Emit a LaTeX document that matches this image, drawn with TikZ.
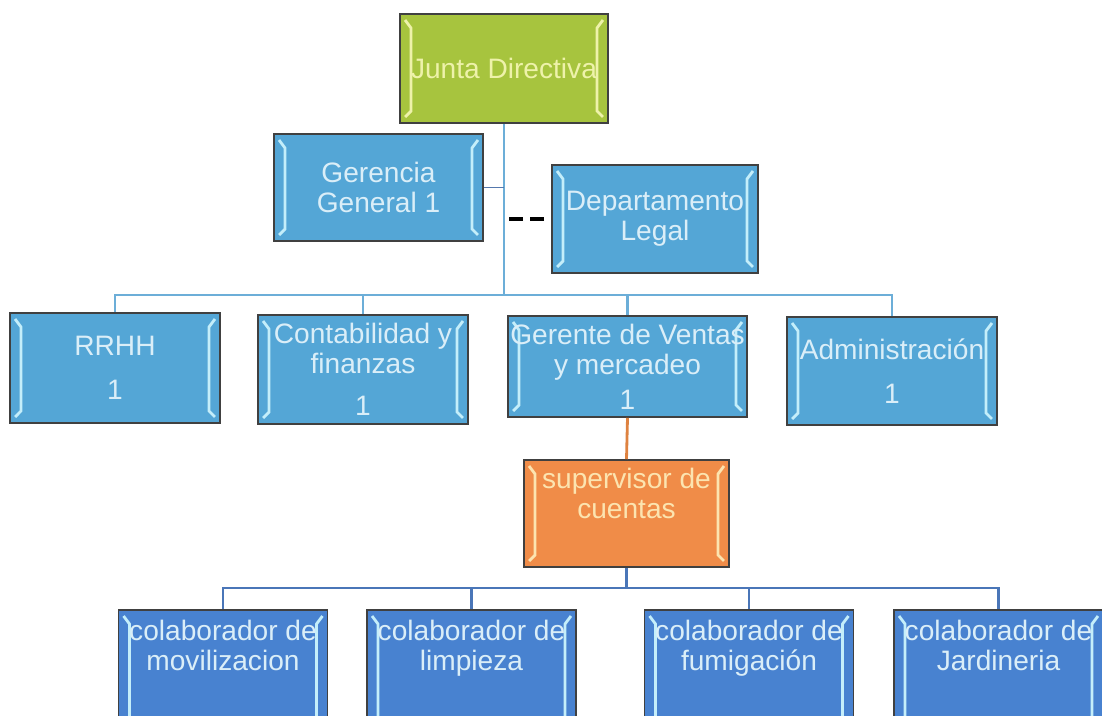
\documentclass[tikz,border=0pt]{standalone}
\usepackage{fontspec}
\setmainfont{Liberation Sans}
\definecolor{verdejunta}{RGB}{167,196,62}
\definecolor{azulcaja}{RGB}{84,166,214}
\definecolor{azulcolab}{RGB}{72,130,208}
\definecolor{naranja}{RGB}{240,140,72}
\definecolor{textoazul}{RGB}{218,238,248}
\definecolor{textoverde}{RGB}{238,242,170}
\definecolor{textonar}{RGB}{252,228,176}
\definecolor{biselazul}{RGB}{196,238,250}
\definecolor{lineaazul}{RGB}{108,174,216}
\definecolor{lineaosc}{RGB}{74,118,184}
\definecolor{lineanar}{RGB}{222,130,64}
\tikzset{bisel/.style={path picture={
  \draw[#1,line width=1.6pt] ([xshift=0.1cm,yshift=-0.12cm]path picture bounding box.north west) -- ([xshift=0.22cm,yshift=-0.28cm]path picture bounding box.north west) -- ([xshift=0.22cm,yshift=0.24cm]path picture bounding box.south west) -- ([xshift=0.1cm,yshift=0.12cm]path picture bounding box.south west);
  \draw[#1,line width=1.6pt] ([xshift=-0.1cm,yshift=-0.12cm]path picture bounding box.north east) -- ([xshift=-0.22cm,yshift=-0.28cm]path picture bounding box.north east) -- ([xshift=-0.22cm,yshift=0.24cm]path picture bounding box.south east) -- ([xshift=-0.1cm,yshift=0.12cm]path picture bounding box.south east);
}}}
\tikzstyle{caja}=[rectangle,draw=black!75,line width=0.9pt,inner sep=0pt,align=center,font=\fontsize{16pt}{17pt}\selectfont]
\tikzstyle{jefe}=[caja,fill=verdejunta,text=textoverde,bisel=textoverde]
\tikzstyle{cargo}=[caja,fill=azulcaja,text=textoazul,bisel=biselazul]
\tikzstyle{super}=[caja,fill=naranja,text=textonar,bisel=textonar]
\tikzstyle{colab}=[caja,fill=azulcolab,text=textoazul,bisel=biselazul,minimum width=4.18cm,minimum height=2.4cm,text depth=1cm]
\tikzstyle{linea}=[draw=lineaazul,line width=1.6pt]

\begin{document}
\begin{tikzpicture}[x=0.02cm,y=-0.02cm]
\useasboundingbox (0,0) rectangle (1102,716);
\clip (0,0) rectangle (1102,716);

\node[jefe,minimum width=4.16cm,minimum height=2.18cm] (junta) at (504,68.5) {Junta Directiva};

\node[cargo,minimum width=4.18cm,minimum height=2.14cm] (gerencia) at (378.5,187.5) {Gerencia\\General 1};
\node[cargo,minimum width=4.12cm,minimum height=2.16cm] (legal) at (655,219) {Departamento\\Legal};

\node[cargo,minimum width=4.2cm,minimum height=2.2cm] (rrhh) at (115,368) {RRHH\\[8pt]1};
\node[cargo,minimum width=4.2cm,minimum height=2.18cm] (conta) at (363,369.5) {Contabilidad y\\finanzas\\[7pt]1};
\node[cargo,minimum width=4.78cm,minimum height=2.02cm] (ventas) at (627.5,366.5) {Gerente de Ventas\\y mercadeo\\[3pt]1};
\node[cargo,minimum width=4.2cm,minimum height=2.16cm] (admin) at (892,371) {Administración\\[8pt]1};

\node[super,minimum width=4.1cm,minimum height=2.14cm,text depth=0.8cm] (super) at (626.5,513.5) {supervisor de\\cuentas};

\node[colab] (movil) at (223,670) {colaborador de\\movilizacion};
\node[colab] (limpieza) at (471.5,670) {colaborador de\\limpieza};
\node[colab] (fumiga) at (749,670) {colaborador de\\fumigación};
\node[colab] (jardin) at (998.5,670) {colaborador de\\Jardineria};

\coordinate (b1) at (504,295);
\coordinate (b2) at (626.5,588);

\draw[linea] (junta.south) -- (b1);
\draw[draw=lineaosc!80!gray,line width=1pt] (gerencia.east) -- (gerencia.east -| b1);
\draw[line width=2.3pt,dash pattern=on 0.28cm off 0.14cm] ([xshift=-0.14cm]legal.west) -- ([xshift=-0.84cm]legal.west);

\draw[linea] (rrhh.north) |- (b1);
\draw[linea] (conta.north) |- (b1);
\draw[linea] (ventas.north) |- (b1);
\draw[linea] (admin.north) |- (b1);

\draw[draw=lineanar,line width=1.6pt] (ventas.south) -- (super.north);

\draw[draw=lineaosc,line width=1.6pt] (super.south) -- (b2);
\draw[draw=lineaosc,line width=1.6pt] (movil.north) |- (b2);
\draw[draw=lineaosc,line width=1.6pt] (limpieza.north) |- (b2);
\draw[draw=lineaosc,line width=1.6pt] (fumiga.north) |- (b2);
\draw[draw=lineaosc,line width=1.6pt] (jardin.north) |- (b2);

\end{tikzpicture}
\end{document}
